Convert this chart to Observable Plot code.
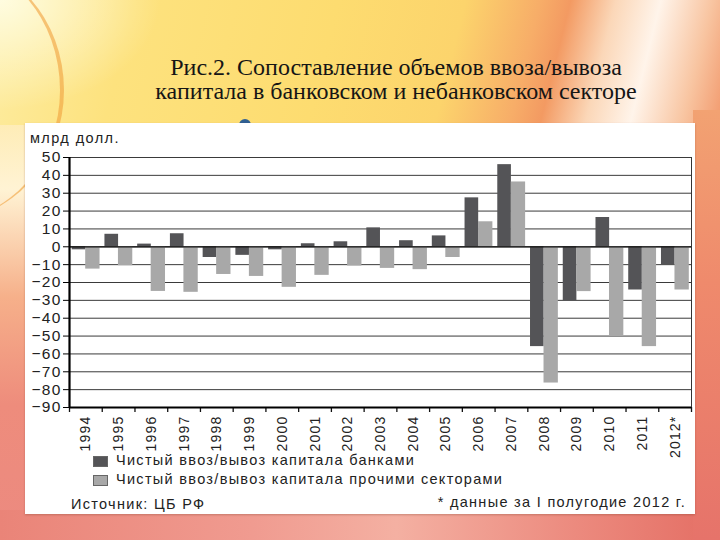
<!DOCTYPE html>
<html><head><meta charset="utf-8">
<script src="https://cdn.jsdelivr.net/npm/d3@7"></script>
<script src="https://cdn.jsdelivr.net/npm/@observablehq/plot@0.6"></script>
<style>
html,body{margin:0;padding:0;}
body{width:720px;height:540px;position:relative;overflow:hidden;font-family:"Liberation Sans",Arial,sans-serif;
 background: linear-gradient(to bottom, #fde07e 0%, #fff3d4 35%, #f6b08a 55%, #ee8c7c 75%, #ec8a80 100%);}
#top{position:absolute;left:0;top:0;width:720px;height:125px;
 background:
  radial-gradient(ellipse 160px 110px at 0px 0px, rgba(255,255,235,0.85), rgba(255,255,235,0)),
  linear-gradient(104deg, #fdeca0 0%, #fde27e 18%, #fddc70 45%, #fcd46c 62%, #f7ad68 72%, #f39a62 76%, #fbd7b8 82%, #fff4ea 88%, #f8c4a0 95%, #f29a6e 100%);}
#arc{position:absolute;left:-170px;top:-40px;width:230px;height:260px;border-radius:50%;border-right:4px solid rgba(240,160,60,0.6);}
#bottom{position:absolute;left:0;top:510px;width:720px;height:30px;
 background:linear-gradient(90deg,#ea8478 0%,#f09b90 35%,#f4b0a2 55%,#ec8a7e 80%,#e46e64 100%);}
#right{position:absolute;left:693px;top:110px;width:27px;height:430px;
 background:linear-gradient(to bottom,#f2a272 0%,#ef8a6c 40%,#e6736a 100%);}
#title{position:absolute;left:96px;top:55px;width:600px;text-align:center;font-family:"Liberation Serif","Times New Roman",serif;font-size:24px;line-height:24px;color:#151515;}
#dot{position:absolute;left:239px;top:119px;width:12px;height:12px;border-radius:50%;background:#2f5f92;}
#panel{position:absolute;left:25px;top:123px;width:670px;height:391px;background:#fff;box-shadow:0 1px 2px rgba(120,60,40,0.35);}
.t{position:absolute;color:#222;white-space:nowrap;}
#unit{left:5px;top:7px;font-size:14.5px;letter-spacing:1.4px;}
#chart{position:absolute;left:0;top:17px;}
.sq{position:absolute;width:13px;height:9px;border:1px solid #666;}
.lg{font-size:14.5px;letter-spacing:1.3px;}
</style></head><body>
<div id="top"><div id="arc"></div></div>
<div id="bottom"></div>
<div id="right"></div>
<div id="title">Рис.2. Сопоставление объемов ввоза/вывоза<br>капитала в банковском и небанковском секторе</div>
<div id="dot"></div>
<div id="panel">
  <div class="t" id="unit">млрд долл.</div>
  <div id="chart"></div>
  <div class="sq" id="sq1" style="left:68px;top:333px;"></div>
  <div class="t lg" id="lg1" style="left:91px;top:329px;"></div>
  <div class="sq" id="sq2" style="left:68px;top:352px;"></div>
  <div class="t lg" id="lg2" style="left:91px;top:348px;"></div>
  <div class="t lg" id="src" style="left:46px;top:373px;"></div>
  <div class="t lg" id="note" style="right:9px;top:371px;"></div>
</div>
<script>
const years = ["1994","1995","1996","1997","1998","1999","2000","2001","2002","2003","2004","2005","2006","2007","2008","2009","2010","2011","2012*"];
const banks = [-1.7, 7, 1.5, 7.3, -6, -4.8, -1.7, 1.7, 2.8, 10.6, 3.4, 6.1, 27.4, 46, -55.9, -30.3, 16.4, -24.2, -10];
const others = [-12.5, -10.6, -25, -25.5, -15.5, -16.6, -22.7, -16, -10.8, -12.1, -12.8, -6, 14, 36.3, -76.3, -25.1, -49.9, -55.9, -24.2];
const yTicks = [50, 40, 30, 20, 10, 0, -10, -20, -30, -40, -50, -60, -70, -80, -90];
const seriesNames = ["Чистый ввоз/вывоз капитала банками", "Чистый ввоз/вывоз капитала прочими секторами"];
const seriesColors = ["#545457", "#a8a8a8"];
const sourceText = "Источник: ЦБ РФ";
const noteText = "* данные за I полугодие 2012 г.";

const W = 670, H = 310, mL = 44, mR = 4, mT = 17, mB = 43;
const step = (W - mL - mR) / years.length;
const yMin = -90, yMax = 50;
const unitsPerPx = (yMax - yMin) / (H - mT - mB);

const bankRows = years.map((y, i) => ({year: y, value: banks[i]}));
const otherRows = years.map((y, i) => ({year: y, value: others[i]}));

const chart = Plot.plot({
  width: W, height: H, marginLeft: mL, marginRight: mR, marginTop: mT, marginBottom: mB,
  style: {fontFamily: "Liberation Sans, Arial, sans-serif", color: "#222", background: "transparent", overflow: "visible"},
  x: {domain: years, padding: 0, round: false, label: null},
  y: {domain: [yMin, yMax], label: null},
  marks: [
    Plot.ruleY(yTicks, {stroke: "#3a3a3a", strokeWidth: 1}),
    Plot.barY(bankRows, {x: "year", y: "value", fill: seriesColors[0], insetLeft: 2.7, insetRight: 16.4}),
    Plot.barY(otherRows, {x: "year", y: "value", fill: seriesColors[1], insetLeft: 16.2, insetRight: 2.2}),
    Plot.ruleY([0], {stroke: "#111", strokeWidth: 1.3}),
    Plot.ruleX([years[years.length - 1]], {dx: step / 2, y1: yMin, y2: yMax, stroke: "#333", strokeWidth: 1}),
    Plot.ruleX(years, {dx: -step / 2, y1: yMin, y2: yMin - 5 * unitsPerPx, stroke: "#111", strokeWidth: 1.3}),
    Plot.ruleX([years[years.length - 1]], {dx: step / 2, y1: yMin, y2: yMin - 5 * unitsPerPx, stroke: "#111", strokeWidth: 1.3}),
    Plot.ruleY([yMin], {stroke: "#000", strokeWidth: 2}),
    Plot.ruleX([years[0]], {dx: -step / 2, y1: yMin, y2: yMax, stroke: "#000", strokeWidth: 2.2}),
    Plot.axisY({ticks: yTicks, tickSize: 6, tickPadding: 2, fontSize: 15.5, stroke: "#000"}),
    Plot.axisX({tickRotate: -90, tickSize: 0, tickPadding: 8, fontSize: 14})
  ]
});
chart.querySelectorAll("text").forEach(t => { t.style.letterSpacing = "1.2px"; });
document.getElementById("chart").appendChild(chart);
document.getElementById("sq1").style.background = seriesColors[0];
document.getElementById("sq2").style.background = seriesColors[1];
document.getElementById("lg1").textContent = seriesNames[0];
document.getElementById("lg2").textContent = seriesNames[1];
document.getElementById("src").textContent = sourceText;
document.getElementById("note").textContent = noteText;
</script>
</body></html>
